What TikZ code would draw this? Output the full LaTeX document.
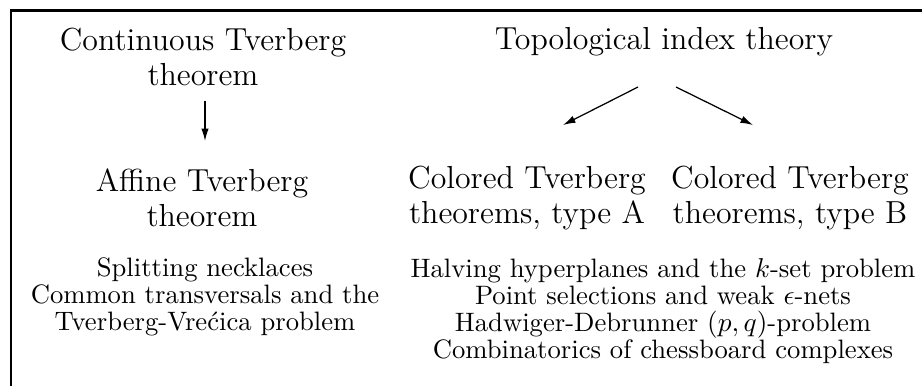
\documentclass[tikz,border=0pt]{standalone}
\usetikzlibrary{arrows.meta}

\tikzset{
    bigtext/.style={align=center, inner sep=0pt, font={\fontsize{12.8}{14.2}\selectfont}},
    smalltext/.style={align=center, inner sep=0pt, font={\fontsize{10.7}{10.9}\selectfont}},
    implies/.style={-{Latex[length=5pt,width=3pt]}, line width=0.5pt},
}

\begin{document}
\begin{tikzpicture}[x=0.4016pt, y=-0.4016pt]
    \useasboundingbox (0,0) rectangle (922,386);

    % frame
    \draw[line width=1.2pt] (11,386) -- (11,10) -- (922,10);

    % left column
    \node[bigtext] (cont) at (203,57) {Continuous Tverberg\\theorem};
    \node[bigtext] (aff) at (202,198) {Affine Tverberg\\theorem};
    \node[smalltext] (appA) at (205,297) {Splitting necklaces\\Common transversals and the\\Tverberg-Vre\'{c}ica problem};

    % right column
    \node[bigtext] (topo) at (664,42) {Topological index theory};
    \node[bigtext] (colA) at (527,198) {Colored Tverberg\\theorems, type A};
    \node[bigtext] (colB) at (790,198) {Colored Tverberg\\theorems, type B};
    \node[smalltext] (appB) at (663,311) {Halving hyperplanes and the $k$-set problem\\Point selections and weak $\epsilon$-nets\\Hadwiger-Debrunner $(p,q)$-problem\\Combinatorics of chessboard complexes};

    % arrows
    \coordinate (contOut) at (205,101);
    \coordinate (affIn) at (205,141);
    \coordinate (topoL) at (638,87);
    \coordinate (topoR) at (676,87);
    \coordinate (colAIn) at (563,125);
    \coordinate (colBIn) at (753,125);

    \draw[implies] (contOut) -- (affIn);
    \draw[implies] (topoL) -- (colAIn);
    \draw[implies] (topoR) -- (colBIn);
\end{tikzpicture}
\end{document}
